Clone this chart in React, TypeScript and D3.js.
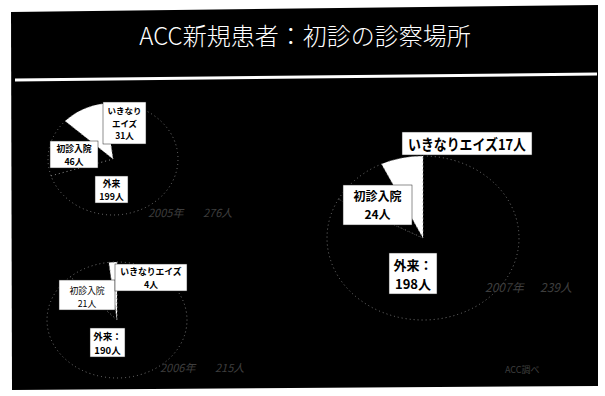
import React from "react";
import * as d3 from "d3";

// ---- data ----
const categories = ["外来", "初診入院", "いきなりエイズ"];
const valuesA = [199, 46, 31];
const valuesB = [190, 21, 4];
const valuesC = [198, 24, 17];
const yearLabels = ["2005年", "2006年", "2007年"];
const titleText = "ACC新規患者：初診の診察場所";
const sourceText = "ACC調べ";

const W = 605;
const H = 396;
const FONT = "'Noto Sans CJK JP', 'Noto Sans', sans-serif";

type LabelSpec = {
  cat: number;
  box: [number, number, number, number];
  lines: (v: number, c: string) => string[];
  baselines: number[];
  size: number;
  weight: number;
  fit?: number;
};

type PieSpec = {
  values: number[];
  cx: number;
  cy: number;
  rx: number;
  ry: number;
  start: number; // degrees
  labels: LabelSpec[];
  caption: { year: number; x1: number; x2: number; y: number; size: number };
};

const pies: PieSpec[] = [
  {
    values: valuesA,
    cx: 113,
    cy: 159,
    rx: 65,
    ry: 56,
    start: -7,
    labels: [
      { cat: 2, box: [103, 102, 43, 42], lines: (v) => ["いきなり", "エイズ", `${v}人`], baselines: [114, 126.5, 139], size: 8.5, weight: 700 },
      { cat: 1, box: [50, 141, 48, 27], lines: (v, c) => [c, `${v}人`], baselines: [152, 165], size: 8.8, weight: 700 },
      { cat: 0, box: [95, 176, 33, 27], lines: (v, c) => [c, `${v}人`], baselines: [187, 200], size: 8.8, weight: 700 },
    ],
    caption: { year: 0, x1: 148, x2: 203, y: 217, size: 11 },
  },
  {
    values: valuesB,
    cx: 117,
    cy: 320,
    rx: 70,
    ry: 58,
    start: 0,
    labels: [
      { cat: 1, box: [59, 280, 56, 30], lines: (v, c) => [c, `${v}人`], baselines: [294, 307], size: 8.8, weight: 400 },
      { cat: 2, box: [115, 264, 72, 27], lines: (v, c) => [c, `${v}人`], baselines: [275, 288], size: 8.8, weight: 700 },
      { cat: 0, box: [90, 328, 35, 29], lines: (v, c) => [`${c}：`, `${v}人`], baselines: [340, 354], size: 9.5, weight: 700 },
    ],
    caption: { year: 1, x1: 160, x2: 215, y: 372, size: 11 },
  },
  {
    values: valuesC,
    cx: 423,
    cy: 238,
    rx: 96,
    ry: 82,
    start: 0,
    labels: [
      { cat: 2, box: [402, 132, 130, 23], lines: (v, c) => [`${c}${v}人`], baselines: [150], size: 15, weight: 700, fit: 118 },
      { cat: 1, box: [343, 185, 69, 40], lines: (v, c) => [c, `${v}人`], baselines: [201, 219], size: 12, weight: 700 },
      { cat: 0, box: [389, 253, 48, 41], lines: (v, c) => [`${c}：`, `${v}人`], baselines: [270, 289], size: 13, weight: 700 },
    ],
    caption: { year: 2, x1: 485, x2: 540, y: 292, size: 12 },
  },
];

const sliceFill = ["#000", "#000", "#fff"];

function Pie({ spec }: { spec: PieSpec }) {
  const a0 = (spec.start * Math.PI) / 180;
  const gen = d3
    .pie<number>()
    .sort(null)
    .value((d) => d)
    .startAngle(a0)
    .endAngle(a0 + 2 * Math.PI);
  const arcs = gen(spec.values);
  const arc = d3.arc<d3.PieArcDatum<number>>().innerRadius(0).outerRadius(spec.ry);
  const sx = spec.rx / spec.ry;
  const total = d3.sum(spec.values);
  return (
    <g>
      <g transform={`translate(${spec.cx},${spec.cy}) scale(${sx},1)`}>
        {arcs.map((a, i) => (
          <path
            key={i}
            d={arc(a) || ""}
            fill={sliceFill[i]}
            stroke="#777"
            strokeWidth={1}
            strokeDasharray="1 3"
            vectorEffect="non-scaling-stroke"
          />
        ))}
      </g>
      {spec.labels.map((l, i) => {
        const lines = l.lines(spec.values[l.cat], categories[l.cat]);
        const cx = l.box[0] + l.box[2] / 2;
        return (
          <g key={i}>
            <rect x={l.box[0]} y={l.box[1]} width={l.box[2]} height={l.box[3]} fill="#fff" stroke="#222" strokeWidth={0.5} />
            {lines.map((t, j) => (
              <text
                key={j}
                x={cx}
                y={l.baselines[j]}
                textAnchor="middle"
                fontSize={l.size}
                fontWeight={l.weight}
                fontFamily={FONT}
                fill="#000"
                {...(l.fit ? { textLength: l.fit, lengthAdjust: "spacingAndGlyphs" } : {})}
              >
                {t}
              </text>
            ))}
          </g>
        );
      })}
      <text x={spec.caption.x1} y={spec.caption.y} fontSize={spec.caption.size} fontFamily={FONT} fill="#3e3e3e" fontStyle="italic">
        {yearLabels[spec.caption.year]}
      </text>
      <text x={spec.caption.x2} y={spec.caption.y} fontSize={spec.caption.size} fontFamily={FONT} fill="#3e3e3e" fontStyle="italic">
        {`${total}人`}
      </text>
    </g>
  );
}

export default function App() {
  return (
    <svg
      width={W}
      height={H}
      viewBox={`0 0 ${W} ${H}`}
      style={{ position: "absolute", left: 0, top: 0, background: "#fff" }}
    >
      <rect x={0} y={0} width={W} height={H} fill="#fff" />
      <polygon points="11,12 598,5 598,386 12,390" fill="#000" />
      <text
        x={305}
        y={45}
        textAnchor="middle"
        fontSize={24}
        fontFamily={FONT}
        fontWeight={300}
        fill="#fff"
      >
        {titleText}
      </text>
      <line x1={15} y1={80} x2={597} y2={74} stroke="#fff" strokeWidth={3} />
      {pies.map((p, i) => (
        <Pie key={i} spec={p} />
      ))}
      <text x={505} y={373} fontSize={9} fontFamily={FONT} fill="#3e3e3e">
        {sourceText}
      </text>
    </svg>
  );
}
